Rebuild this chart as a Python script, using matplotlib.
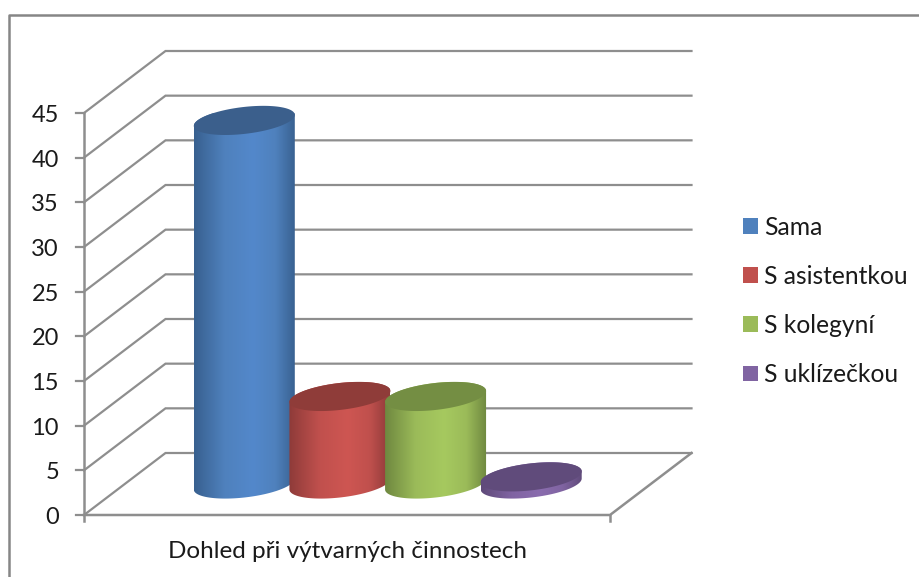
import numpy as np
import matplotlib
matplotlib.use("Agg")
import matplotlib.pyplot as plt
from matplotlib.colors import LinearSegmentedColormap
from matplotlib.lines import Line2D
from matplotlib.patches import Patch, Polygon

plt.rcParams['font.family'] = ['Lato', 'DejaVu Sans']

series = ["Sama", "S asistentkou", "S kolegyní", "S uklízečkou"]
values = [40.7, 9.8, 9.8, 0.8]
category = "Dohled při výtvarných činnostech"
yticks = [0, 5, 10, 15, 20, 25, 30, 35, 40, 45]
light = ["#4F81BD", "#C0504D", "#9BBB59", "#8064A2"]
bright = ["#5388CB", "#CE5652", "#A6C95F", "#8A6CAE"]
side = ["#38608F", "#8E3B39", "#6F8840", "#5F4A79"]
top = ["#3B5F8C", "#8F3C39", "#748E43", "#604B7B"]

W, H = 920, 577
GRID = "#8E8E8E"
TXT = "#1A1A1A"
fig = plt.figure(figsize=(W / 100, H / 100), dpi=100)
fig.patch.set_facecolor("white")

# front plane of the 3-D box in pixels
L, R, B, T = 84, 610, 515, 113
ax = fig.add_axes([L / W, 1 - B / H, (R - L) / W, (B - T) / H])
ax.set_axis_off()
XMAX, YMAX = 5.5, 45
px = (R - L) / XMAX     # pixels per x unit
py = (B - T) / YMAX     # pixels per y unit
DX, DY = 81.5 / px, 62 / py  # full depth in data units

# frame of the chart area (left and top edges only are visible)
fig.add_artist(Line2D([8.5 / W, 8.5 / W, 1],
                      [0, 1 - 14.5 / H, 1 - 14.5 / H],
                      color="#868686", lw=1.8, transform=fig.transFigure))

# gridlines on the side and back walls
for v in yticks:
    ax.plot([0, DX, XMAX + DX], [v, v + DY, v + DY], color=GRID, lw=1.6,
            clip_on=False, zorder=1, solid_joinstyle="miter")
    ax.plot([-8 / px, 0], [v, v], color=GRID, lw=1.6, clip_on=False, zorder=1)
    ax.text(-25 / px, v - 2.5 / py, str(v), ha="right", va="center", fontsize=17,
            color=TXT)

# axes and floor
ax.plot([0, 0], [-6 / py, YMAX], color=GRID, lw=1.8, clip_on=False, zorder=1)
ax.plot([0, XMAX, XMAX + DX], [0, 0, DY], color=GRID, lw=1.8, clip_on=False, zorder=1)
ax.plot([XMAX, XMAX], [0, -6 / py], color=GRID, lw=1.8, clip_on=False, zorder=1)

# cylinders
t = np.linspace(0, 2 * np.pi, 181)
a, b, s = 50.5 / px, 13.5 / py, 5.5 / py
for i, v in enumerate(values):
    cx = 1.25 + i + DX / 2
    y0 = DY / 2
    y1 = y0 + v
    z = 2 + i
    ex = cx + a * np.cos(t)
    ey = s * np.cos(t) + b * np.sin(t)
    # body outline: lower half of base ellipse + upper ellipse
    lo = np.linspace(0, -np.pi, 91)
    up = np.linspace(-np.pi, 0, 91)
    bx = np.r_[cx + a * np.cos(lo), cx + a * np.cos(up)]
    by = np.r_[y0 + s * np.cos(lo) + b * np.sin(lo),
               y1 + s * np.cos(up) - b * np.sin(up)]
    cmap = LinearSegmentedColormap.from_list(
        "c", [(0, side[i]), (0.3, light[i]), (0.58, bright[i]),
              (0.8, light[i]), (1, side[i])])
    grad = np.linspace(0, 1, 256)[None, :]
    im = ax.imshow(grad, cmap=cmap, aspect="auto", zorder=z,
                   extent=[cx - a, cx + a, min(by), max(by)], interpolation="bilinear")
    poly = Polygon(np.c_[bx, by], closed=True, transform=ax.transData,
                   fc="none", ec="none")
    ax.add_patch(poly)
    poly.set_clip_on(False)
    im.set_clip_path(poly)
    ax.fill(ex, y1 + ey, color=top[i], lw=0, zorder=z + 0.5, clip_on=False)

ax.set_xlim(0, XMAX)
ax.set_ylim(0, YMAX)

# category label
ax.text(2.75 + 0.5 / px, -36 / py, category, ha="center", va="center",
        fontsize=17.5, color=TXT)

# legend
handles = [Patch(fc=c, ec="none") for c in light]
leg = ax.legend(handles, series, loc="center left", frameon=False,
                bbox_to_anchor=(721 / W, 1 - 301 / H),
                bbox_transform=fig.transFigure, fontsize=17.7,
                labelcolor=TXT, handlelength=0.61, handleheight=0.61,
                handletextpad=0.25, labelspacing=1.06, borderpad=0.4)

fig.savefig("out.png", dpi=100)
